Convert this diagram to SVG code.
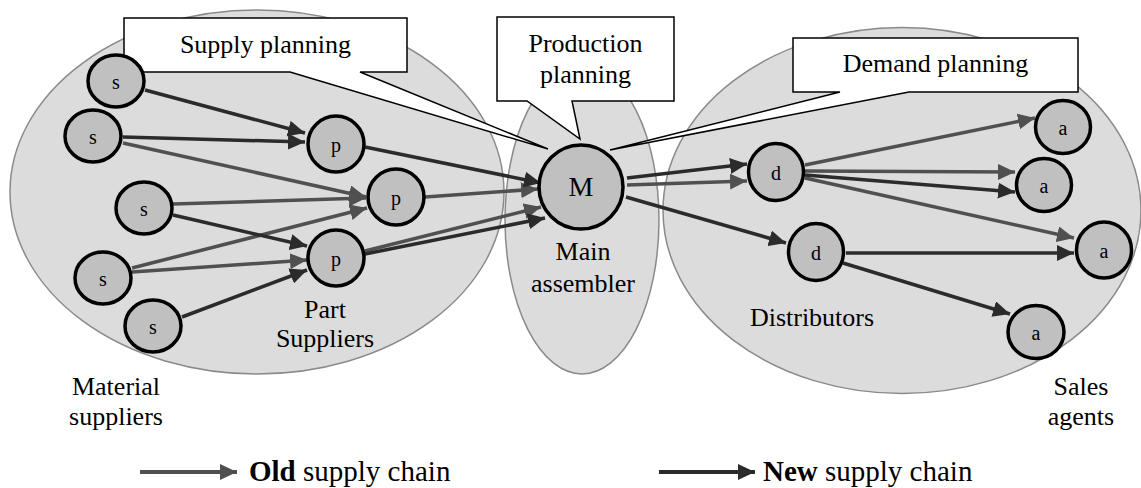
<svg xmlns="http://www.w3.org/2000/svg" width="1141" height="488" viewBox="0 0 1141 488">
<style>
.region{fill:#dcdcdc;stroke:#8a8a8a;stroke-width:1.5}
.node{fill:#c0c0c0;stroke:#000;stroke-width:3.5}
.callout{fill:#fff;stroke:#000;stroke-width:1.5;stroke-linejoin:miter}
.t{font-family:"Liberation Serif","Times New Roman",serif;fill:#000;text-anchor:middle}
.lbl{font-size:26px}
.nl{font-size:20px}
.leg{font-family:"Liberation Serif","Times New Roman",serif;font-size:29px;fill:#000}
.old{stroke:#505050;stroke-width:3.5;fill:none;marker-end:url(#ao)}
.new{stroke:#2b2b2b;stroke-width:3.5;fill:none;marker-end:url(#an)}
</style>
<defs>
<marker id="ao" markerUnits="userSpaceOnUse" markerWidth="17" markerHeight="16" refX="17" refY="8" orient="auto"><path d="M0,0 L17,8 L0,16 Z" fill="#505050"/></marker>
<marker id="an" markerUnits="userSpaceOnUse" markerWidth="17" markerHeight="16" refX="17" refY="8" orient="auto"><path d="M0,0 L17,8 L0,16 Z" fill="#2b2b2b"/></marker>
</defs>
<rect width="1141" height="488" fill="#fff"/>
<g id="regions">
<ellipse class="region" cx="257" cy="192" rx="247" ry="182"/>
<ellipse class="region" cx="582" cy="220" rx="77" ry="154"/>
<ellipse class="region" cx="902" cy="210.5" rx="239" ry="183"/>
</g>
<g id="connectors">
<line class="old" x1="123" y1="143" x2="366" y2="197"/>
<line class="old" x1="173" y1="204" x2="366" y2="198"/>
<line class="old" x1="132" y1="268" x2="367" y2="208"/>
<line class="old" x1="132" y1="272" x2="307" y2="260"/>
<line class="old" x1="425" y1="197" x2="538" y2="189"/>
<line class="old" x1="365" y1="251" x2="541" y2="207"/>
<line class="old" x1="627" y1="185" x2="747" y2="181"/>
<line class="old" x1="805" y1="165" x2="1035" y2="118"/>
<line class="old" x1="805" y1="171" x2="1015" y2="172"/>
<line class="old" x1="805" y1="178" x2="1074" y2="238"/>
<line class="new" x1="145" y1="90" x2="305" y2="133"/>
<line class="new" x1="123" y1="137" x2="305" y2="142"/>
<line class="new" x1="173" y1="215" x2="307" y2="246"/>
<line class="new" x1="182" y1="317" x2="307" y2="270"/>
<line class="new" x1="365" y1="147" x2="541" y2="183"/>
<line class="new" x1="365" y1="254" x2="545" y2="218"/>
<line class="new" x1="627" y1="178" x2="747" y2="164"/>
<line class="new" x1="626" y1="197" x2="786" y2="243"/>
<line class="new" x1="805" y1="175" x2="1015" y2="192"/>
<line class="new" x1="846" y1="253" x2="1074" y2="253"/>
<line class="new" x1="843" y1="263" x2="1010" y2="314"/>
</g>
<g id="supply-planning">
<path class="callout" d="M124,18 H407 V72 H360 L548,149 L290,72 H124 Z"/>
<text class="t lbl" x="265.5" y="53">Supply planning</text>
</g>
<g id="production-planning">
<path class="callout" d="M497,17 H674 V101 H572 L580,139 L527,101 H497 Z"/>
<text class="t lbl" x="585.5" y="52">Production</text>
<text class="t lbl" x="585.5" y="83">planning</text>
</g>
<g id="demand-planning">
<path class="callout" d="M793,38 H1078 V92 H909 L610,150 L840,92 H793 Z"/>
<text class="t lbl" x="935.5" y="72">Demand planning</text>
</g>
<g id="s1"><ellipse class="node" cx="116" cy="81" rx="28" ry="26"/><text class="t nl" x="116" y="89">s</text></g>
<g id="s2"><ellipse class="node" cx="93" cy="136" rx="28" ry="26"/><text class="t nl" x="93" y="144">s</text></g>
<g id="s3"><ellipse class="node" cx="144" cy="208" rx="28" ry="26"/><text class="t nl" x="144" y="216">s</text></g>
<g id="s4"><ellipse class="node" cx="103" cy="278" rx="28" ry="26"/><text class="t nl" x="103" y="286">s</text></g>
<g id="s5"><ellipse class="node" cx="153" cy="326" rx="28" ry="26"/><text class="t nl" x="153" y="334">s</text></g>
<g id="p1"><ellipse class="node" cx="336" cy="144" rx="28" ry="28"/><text class="t nl" x="336" y="152">p</text></g>
<g id="p2"><ellipse class="node" cx="396" cy="197" rx="28" ry="28"/><text class="t nl" x="396" y="205">p</text></g>
<g id="p3"><ellipse class="node" cx="336" cy="258" rx="28" ry="28"/><text class="t nl" x="336" y="266">p</text></g>
<g id="M"><ellipse class="node" cx="581" cy="187" rx="42" ry="42"/><text class="t" x="581" y="196" font-size="28">M</text></g>
<g id="d1"><ellipse class="node" cx="776" cy="172" rx="27.5" ry="28.5"/><text class="t nl" x="776" y="180">d</text></g>
<g id="d2"><ellipse class="node" cx="816" cy="252" rx="27.5" ry="28.5"/><text class="t nl" x="816" y="260">d</text></g>
<g id="a1"><ellipse class="node" cx="1063" cy="127" rx="27.5" ry="26.5"/><text class="t nl" x="1063" y="135">a</text></g>
<g id="a2"><ellipse class="node" cx="1044" cy="185" rx="27.5" ry="26.5"/><text class="t nl" x="1044" y="193">a</text></g>
<g id="a3"><ellipse class="node" cx="1104" cy="250" rx="27.5" ry="28"/><text class="t nl" x="1104" y="258">a</text></g>
<g id="a4"><ellipse class="node" cx="1036" cy="332" rx="28" ry="26.5"/><text class="t nl" x="1036" y="340">a</text></g>
<g id="labels">
<text class="t lbl" x="325" y="318">Part</text>
<text class="t lbl" x="325" y="347">Suppliers</text>
<text class="t lbl" x="583" y="260">Main</text>
<text class="t lbl" x="583" y="292">assembler</text>
<text class="t lbl" x="812" y="326">Distributors</text>
<text class="t lbl" x="116" y="395">Material</text>
<text class="t lbl" x="116" y="425">suppliers</text>
<text class="t lbl" x="1081" y="395">Sales</text>
<text class="t lbl" x="1081" y="425">agents</text>
</g>
<g id="legend">
<line x1="140" y1="472" x2="237" y2="472" stroke="#505050" stroke-width="4" marker-end="url(#ao)"/>
<text class="leg" x="249" y="481"><tspan font-weight="bold">Old</tspan> supply chain</text>
<line x1="659" y1="472" x2="755" y2="472" stroke="#2b2b2b" stroke-width="4" marker-end="url(#an)"/>
<text class="leg" x="763" y="481"><tspan font-weight="bold">New</tspan> supply chain</text>
</g>
</svg>
